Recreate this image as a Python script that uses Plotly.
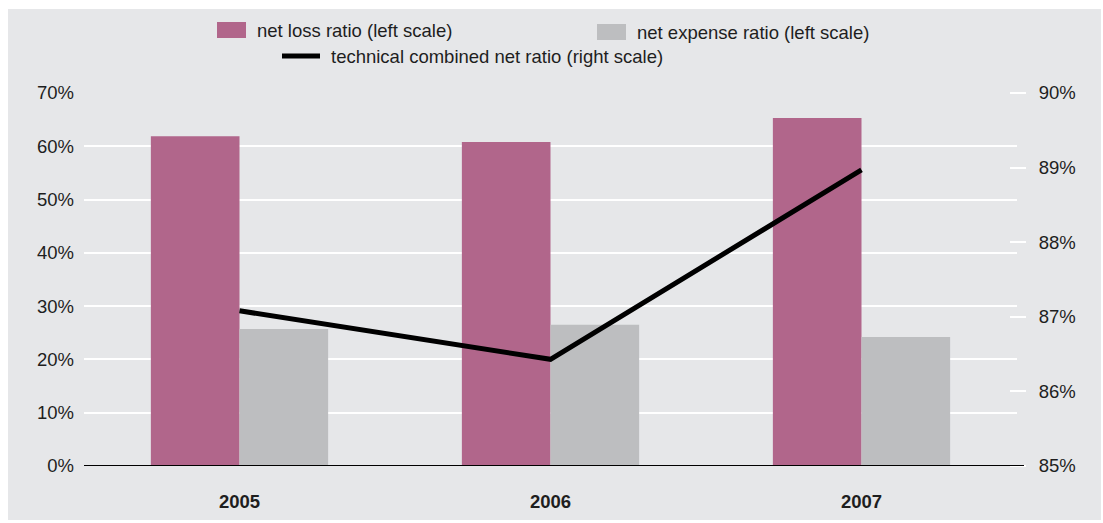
import plotly.graph_objects as go

years = ["2005", "2006", "2007"]
net_loss_ratio = [61.9, 60.8, 65.3]
net_expense_ratio = [25.7, 26.5, 24.2]
combined_ratio = [87.08, 86.43, 88.97]

left_ticks = [0, 10, 20, 30, 40, 50, 60, 70]
right_ticks = [85, 86, 87, 88, 89, 90]

W, H = 1103, 523
ML, MR, MT, MB = 84, 86, 93, 57
PW, PH = W - ML - MR, H - MT - MB

def px(x):
    return (x - ML) / PW

def py(y):
    return (H - MB - y) / PH

PINK = "#b1668b"
GREY = "#bdbec0"
BG = "#e6e7e9"
TXT = "#1e1e1e"
FONT = "Liberation Sans, Arial, sans-serif"
FS = 18.5

fig = go.Figure()
fig.add_trace(go.Bar(x=years, y=net_loss_ratio, name="net loss ratio (left scale)",
                     marker=dict(color=PINK, line=dict(width=0)), yaxis="y"))
fig.add_trace(go.Bar(x=years, y=net_expense_ratio, name="net expense ratio (left scale)",
                     marker=dict(color=GREY, line=dict(width=0)), yaxis="y"))
fig.add_trace(go.Scatter(x=years, y=combined_ratio, name="technical combined net ratio (right scale)",
                         mode="lines", line=dict(color="black", width=5), yaxis="y2"))

shapes = [
    # background panel
    dict(type="rect", xref="paper", yref="paper", x0=px(8), x1=px(1101), y0=py(520), y1=py(9),
         fillcolor=BG, line=dict(width=0), layer="below"),
    # baseline
    dict(type="line", xref="paper", yref="y", x0=px(84), x1=px(1024), y0=0, y1=0,
         line=dict(color="black", width=2)),
    # legend swatches
    dict(type="rect", xref="paper", yref="paper", x0=px(217), x1=px(246), y0=py(38), y1=py(22),
         fillcolor=PINK, line=dict(width=0)),
    dict(type="rect", xref="paper", yref="paper", x0=px(597), x1=px(626), y0=py(40), y1=py(24),
         fillcolor=GREY, line=dict(width=0)),
    dict(type="line", xref="paper", yref="paper", x0=px(282), x1=px(320), y0=py(56), y1=py(56),
         line=dict(color="black", width=5)),
]

annotations = [
    dict(xref="paper", yref="paper", x=px(255), y=py(30), text="net loss ratio (left scale)",
         showarrow=False, xanchor="left", yanchor="middle", font=dict(size=FS, color=TXT, family=FONT)),
    dict(xref="paper", yref="paper", x=px(635), y=py(33), text="net expense ratio (left scale)",
         showarrow=False, xanchor="left", yanchor="middle", font=dict(size=FS, color=TXT, family=FONT)),
    dict(xref="paper", yref="paper", x=px(329), y=py(57), text="technical combined net ratio (right scale)",
         showarrow=False, xanchor="left", yanchor="middle", font=dict(size=FS, color=TXT, family=FONT)),
]

fig.update_layout(
    width=W, height=H,
    margin=dict(l=ML, r=MR, t=MT, b=MB, pad=0),
    paper_bgcolor="white",
    plot_bgcolor="rgba(0,0,0,0)",
    barmode="group", bargap=0.43, bargroupgap=0,
    showlegend=False,
    font=dict(family=FONT, size=FS, color=TXT),
    xaxis=dict(type="category", range=[-0.5, 2.5], showgrid=False, showline=False, ticks="",
               tickfont=dict(size=FS, color=TXT, family=FONT, weight="bold"),
               ticklabelstandoff=22),
    yaxis=dict(range=[0, 70], tickvals=left_ticks, ticktext=[f"{v}%" for v in left_ticks],
               showgrid=True, gridcolor="white", gridwidth=2, zeroline=False, showline=False,
               ticks="", ticklabelstandoff=9, tickfont=dict(size=FS, color=TXT, family=FONT)),
    yaxis2=dict(range=[85, 90], tickvals=right_ticks, ticktext=[f"{v}%" for v in right_ticks],
                overlaying="y", side="right", anchor="free", position=px(1009),
                showgrid=False, zeroline=False, showline=False,
                ticks="outside", ticklen=16, tickwidth=2, tickcolor="white",
                ticklabelstandoff=9, tickfont=dict(size=FS, color=TXT, family=FONT)),
    shapes=shapes,
    annotations=annotations,
)

fig.write_html("out.html")
